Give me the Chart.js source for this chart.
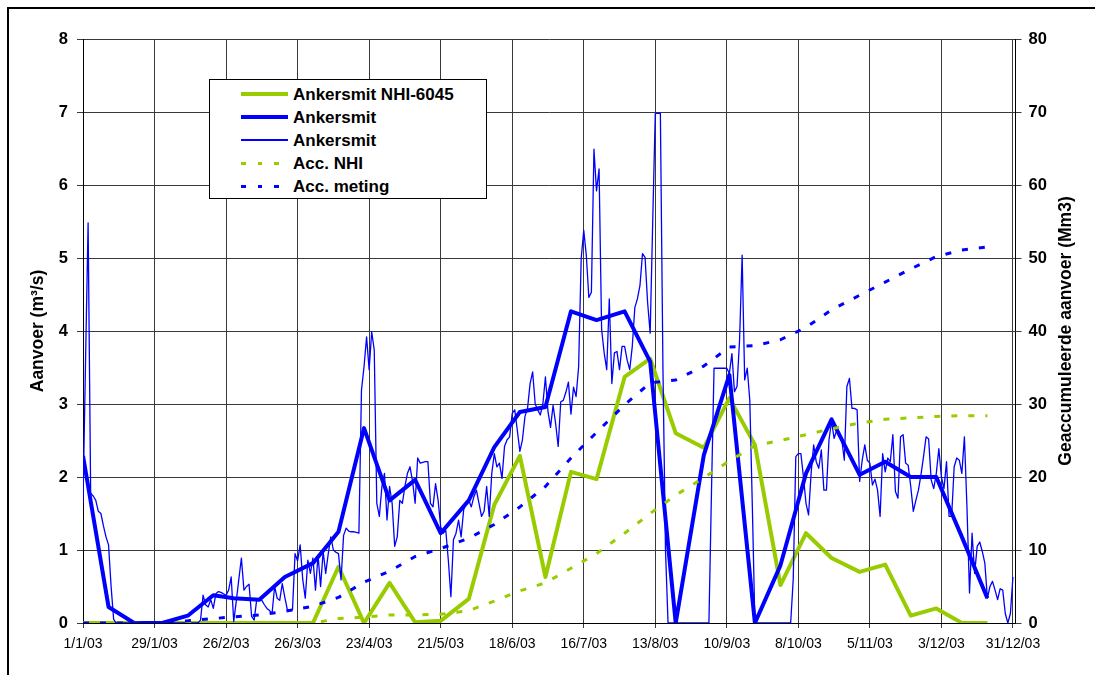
<!DOCTYPE html>
<html>
<head>
<meta charset="utf-8">
<script src="https://cdn.jsdelivr.net/npm/chart.js@4"></script>
<style>
  body { margin: 0; background: #fff; font-family: "Liberation Sans", Arial, sans-serif; }
  #wrap { position: relative; width: 1095px; height: 675px; overflow: hidden; }
  #frame { position: absolute; left: 7px; top: 7px; width: 1200px; height: 800px; border: 2px solid #000; }
  canvas { position: absolute; left: 0; top: 0; }
  #legend { position: absolute; left: 209px; top: 79px; width: 276px; height: 118px; border: 1px solid #000; background: #fff; }
  .sample { position: absolute; left: 31px; width: 47px; }
  .label { position: absolute; left: 83px; font-weight: bold; font-size: 17px; line-height: 19px; white-space: nowrap; color: #000; }
</style>
</head>
<body>
<div id="wrap">
  <canvas id="myChart" width="1095" height="675"></canvas>
  <div id="frame"></div>
  <div id="legend"></div>
</div>
<script>
const GREEN = '#99cc00'
const BLUE = '#0000ff'

// x positions are day numbers counted from 1/1/03
const tickDays = [0, 28, 56, 84, 112, 140, 168, 196, 224, 252, 280, 308, 336, 364]
const dekadDays = [0, 10, 20, 31, 41, 51, 59, 69, 79, 90, 100, 110, 120, 130, 140, 151, 161, 171, 181,
    191, 201, 212, 222, 232, 243, 253, 263, 273, 283, 293, 304, 314, 324, 334, 344, 354]

// m3/s per decade
const nhi6045 = [0, 0, 0, 0, 0, 0, 0, 0, 0, 0, 0.77, 0, 0.55, 0.01, 0.03, 0.33, 1.62, 2.29, 0.63,
    2.07, 1.97, 3.37, 3.62, 2.6, 2.4, 3.08, 2.44, 0.52, 1.23, 0.89, 0.7, 0.8, 0.1, 0.2, 0, 0]
const ankersmitDecade = [2.29, 0.22, 0, 0, 0.1, 0.38, 0.34, 0.32, 0.63, 0.82, 1.25, 2.67, 1.68, 1.96, 1.23, 1.68, 2.41, 2.89, 2.96,
    4.27, 4.15, 4.27, 3.58, 0, 2.3, 3.4, 0, 0.79, 2.05, 2.79, 2.03, 2.21, 2.0, 2.0, 1.18, 0.34]

// Mm3, accumulated
const accNhi = [0, 0, 0, 0, 0, 0, 0, 0, 0, 0, 0.6, 0.8, 1.1, 1.1, 1.2, 1.7, 3.0, 4.4, 5.5,
    7.5, 9.5, 12.3, 15.0, 17.5, 19.9, 22.2, 24.3, 25.0, 25.8, 26.6, 27.4, 27.9, 28.1, 28.3, 28.4, 28.4]
const accMeting = [0, 0, 0, 0.1, 0.3, 0.6, 0.85, 1.1, 1.6, 2.3, 3.5, 5.6, 7.1, 9.1, 10.2, 11.6, 13.5, 15.9, 18.7,
    22.6, 26.1, 29.9, 32.9, 33.3, 35.2, 37.8, 38.0, 38.8, 40.5, 42.9, 44.9, 46.7, 48.5, 50.2, 51.1, 51.5]

// m3/s per day, day 0 .. 364
const ankersmitDaily = [
    1.64, 3.6, 5.48, 1.78, 1.74, 1.68, 1.53, 1.5, 1.33, 1.18,
    1.07, 0.5, 0.05, 0, 0, 0, 0, 0, 0, 0,
    0, 0, 0, 0, 0, 0, 0, 0, 0, 0,
    0, 0, 0, 0, 0, 0, 0, 0, 0, 0,
    0, 0, 0, 0, 0, 0, 0.04, 0.38, 0.25, 0.22,
    0.32, 0.2, 0.4, 0.43, 0.42, 0.4, 0.38, 0.45, 0.63, 0.02,
    0.3, 0.6, 0.89, 0.45, 0.5, 0.53, 0.09, 0.04, 0.32, 0.33,
    0.31, 0.25, 0.2, 0.17, 0.13, 0.5, 0.34, 0.31, 0.54, 0.35,
    0.18, 0.18, 0.18, 0.95, 0.85, 1.07, 0.6, 0.34, 0.86, 0.68,
    0.89, 0.45, 0.93, 0.5, 0.98, 0.68, 0.95, 1.18, 1.0, 0.97,
    0.95, 0.59, 1.2, 1.3, 1.26, 1.25, 1.25, 1.24, 1.23, 3.19,
    3.51, 3.92, 3.47, 3.99, 3.74, 1.64, 1.46, 1.87, 2.05, 1.41,
    1.87, 1.64, 1.05, 1.18, 1.68, 1.64, 1.87, 2.05, 2.14, 1.94,
    1.64, 2.26, 2.19, 2.2, 2.21, 2.21, 1.64, 1.59, 1.91, 1.68,
    1.32, 1.23, 1.27, 0.86, 0.36, 1.14, 1.23, 1.41, 1.18, 1.55,
    1.64, 1.68, 1.59, 1.73, 1.82, 1.64, 1.46, 1.53, 1.87, 1.46,
    2.05, 2.32, 2.14, 2.19, 1.98, 2.42, 2.51, 2.55, 2.87, 2.92,
    2.64, 2.35, 2.51, 2.83, 2.94, 3.28, 3.44, 3.0, 2.92, 2.85,
    3.0, 3.37, 2.9, 2.68, 2.98, 2.73, 2.42, 3.03, 3.05, 3.16,
    3.3, 2.86, 3.23, 3.1, 3.51, 4.99, 5.38, 5.04, 4.46, 4.53,
    6.49, 5.92, 6.22, 4.02, 3.7, 3.47, 4.44, 3.28, 3.7, 3.72,
    3.47, 3.79, 3.79, 3.6, 3.47, 3.79, 4.32, 4.44, 4.62, 5.06,
    5.01, 4.39, 3.97, 5.5, 6.98, 6.98, 6.98, 3.5, 1.0, 0,
    0, 0, 0, 0, 0, 0, 0, 0, 0, 0,
    0, 0, 0, 0, 0, 0, 1.8, 3.49, 3.49, 3.49,
    3.49, 3.49, 3.49, 3.42, 3.69, 3.17, 3.24, 3.88, 5.04, 3.33,
    3.49, 3.05, 1.59, 0, 0, 0, 0, 0, 0, 0,
    0, 0, 0, 0, 0, 0, 0, 0, 0.6, 2.28,
    2.32, 2.32, 2.0, 1.64, 1.48, 2.05, 2.44, 2.21, 2.12, 2.37,
    1.82, 1.82, 2.51, 2.76, 2.53, 2.64, 2.6, 2.51, 2.23, 3.24,
    3.35, 2.94, 2.94, 2.92, 1.94, 2.23, 2.44, 2.23, 2.19, 1.89,
    1.97, 1.82, 1.46, 2.32, 2.07, 2.26, 2.21, 2.58, 1.8, 1.71,
    2.55, 2.58, 2.19, 2.16, 1.87, 1.53, 1.68, 1.82, 2.03, 2.28,
    2.55, 2.52, 1.96, 1.84, 2.05, 2.39, 2.0, 1.84, 2.21, 1.46,
    1.46, 2.14, 2.26, 2.23, 2.05, 2.55, 1.59, 0.41, 1.23, 0.68,
    1.05, 1.11, 0.98, 0.82, 0.34, 0.5, 0.57, 0.45, 0.32, 0.47,
    0.45, 0.13, 0, 0.13, 0.63
]

const fontFamily = '"Liberation Sans", Arial, sans-serif'
const gridColor = '#3a3a3a'

const byDekad = vals => vals.map((v, i) => ({x: dekadDays[i], y: v}))

function dayLabel(v) {
    const d = new Date(2003, 0, 1 + v)
    return d.getDate() + '/' + (d.getMonth() + 1) + '/03'
}

// axis titles, the right one reads bottom to top like the left one
const axisTitles = {
    id: 'axisTitles',
    afterDraw(chart) {
        const c = chart.ctx
        const mid = (chart.chartArea.top + chart.chartArea.bottom) / 2
        const titles = [[38, 'Aanvoer (m³/s)'], [1066, 'Geaccumuleerde aanvoer (Mm3)']]
        titles.forEach(([x, text]) => {
            c.save()
            c.fillStyle = '#000'
            c.font = 'bold 17.5px ' + fontFamily
            c.textAlign = 'center'
            c.textBaseline = 'middle'
            c.translate(x, mid)
            c.rotate(-Math.PI / 2)
            c.fillText(text, 0, 0)
            c.restore()
        })
    }
}

const ctx = document.getElementById('myChart')
new Chart(ctx, {
    type: 'line',
    data: {
        datasets: [
            {label: 'Ankersmit NHI-6045', data: byDekad(nhi6045), yAxisID: 'y', borderColor: GREEN, borderWidth: 4, order: 5},
            {label: 'Ankersmit', data: byDekad(ankersmitDecade), yAxisID: 'y', borderColor: BLUE, borderWidth: 4, order: 4},
            {label: 'Ankersmit', data: ankersmitDaily.map((v, i) => ({x: i, y: v})), yAxisID: 'y', borderColor: BLUE, borderWidth: 1.3, order: 3},
            {label: 'Acc. NHI', data: byDekad(accNhi), yAxisID: 'y2', borderColor: GREEN, borderWidth: 3, borderDash: [6, 11], order: 2},
            {label: 'Acc. meting', data: byDekad(accMeting), yAxisID: 'y2', borderColor: BLUE, borderWidth: 3, borderDash: [6, 11], order: 1}
        ]
    },
    options: {
        responsive: false,
        animation: false,
        devicePixelRatio: 1,
        layout: {padding: {top: 39, left: 0, right: 0, bottom: 0}},
        elements: {
            point: {radius: 0},
            line: {tension: 0, borderJoinStyle: 'round', borderCapStyle: 'butt', fill: false}
        },
        plugins: {legend: {display: false}, tooltip: {enabled: false}},
        scales: {
            x: {
                type: 'linear',
                min: 0,
                max: 365,
                afterFit: s => { s.height = 52 },
                afterBuildTicks: s => { s.ticks = tickDays.map(v => ({value: v})) },
                grid: {color: gridColor, lineWidth: 1, tickLength: 5},
                border: {color: '#000', width: 1},
                ticks: {
                    autoSkip: false,
                    maxRotation: 0,
                    padding: 8,
                    color: '#000',
                    font: {family: fontFamily, size: 14},
                    callback: v => dayLabel(v)
                }
            },
            y: {
                position: 'left',
                min: 0,
                max: 8,
                afterFit: s => { s.width = 83 },
                grid: {color: gridColor, lineWidth: 1, tickLength: 6},
                border: {color: '#000', width: 1},
                ticks: {stepSize: 1, padding: 9, color: '#000', font: {family: fontFamily, size: 16.5, weight: 'bold'}}
            },
            y2: {
                position: 'right',
                min: 0,
                max: 80,
                afterFit: s => { s.width = 79.5 },
                grid: {drawOnChartArea: false, color: gridColor, tickLength: 6},
                border: {color: '#000', width: 1},
                ticks: {stepSize: 10, padding: 7, color: '#000', font: {family: fontFamily, size: 16.5, weight: 'bold'}}
            }
        }
    },
    plugins: [axisTitles]
})

// legend box
const legendRows = [
    {text: 'Ankersmit NHI-6045', color: GREEN, width: 4, dashed: false},
    {text: 'Ankersmit', color: BLUE, width: 4, dashed: false},
    {text: 'Ankersmit', color: BLUE, width: 1.5, dashed: false},
    {text: 'Acc. NHI', color: GREEN, width: 3, dashed: true},
    {text: 'Acc. meting', color: BLUE, width: 3, dashed: true}
]
const legend = document.getElementById('legend')
legendRows.forEach((r, i) => {
    const cy = 14 + i * 23
    const s = document.createElement('div')
    s.className = 'sample'
    s.style.top = (cy - r.width / 2) + 'px'
    s.style.height = r.width + 'px'
    s.style.background = r.dashed
        ? `repeating-linear-gradient(to right, ${r.color} 0 5px, transparent 5px 16.5px)`
        : r.color
    legend.appendChild(s)
    const t = document.createElement('div')
    t.className = 'label'
    t.style.top = (cy - 9.5) + 'px'
    t.textContent = r.text
    legend.appendChild(t)
})
</script>
</body>
</html>
